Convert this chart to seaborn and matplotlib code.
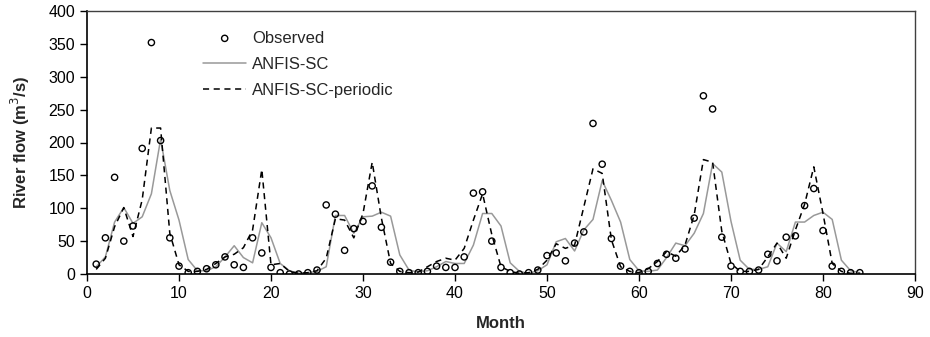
import numpy as np
import pandas as pd
import matplotlib
matplotlib.use('Agg')
import matplotlib.pyplot as plt
import seaborn as sns

# Monthly river flow values (months 1..84)
months = list(range(1, 85))
observed = [15, 55, 147, 50, 73, 191, 352, 203, 55, 12, 2, 4, 8, 14, 26, 14, 10, 55, 32, 10,
            2, 0, 0, 2, 6, 105, 91, 36, 69, 80, 134, 71, 18, 4, 2, 2, 4, 12, 10, 10,
            26, 123, 125, 50, 10, 2, 0, 2, 6, 28, 32, 20, 47, 64, 229, 167, 54, 12, 4, 2,
            4, 16, 30, 24, 38, 85, 271, 251, 56, 12, 4, 4, 6, 30, 20, 56, 58, 104, 130, 66,
            12, 4, 2, 2]
anfis_sc = [11, 26, 79, 101, 77, 87, 122, 205, 127, 82, 22, 5, 5, 11, 26, 43, 25, 17, 78, 55,
            16, 5, 1, 2, 4, 11, 89, 89, 62, 87, 88, 94, 88, 29, 6, 3, 5, 11, 19, 16,
            16, 44, 92, 92, 73, 17, 4, 1, 5, 14, 49, 54, 35, 67, 83, 142, 112, 79, 22, 5,
            4, 6, 25, 47, 43, 62, 92, 168, 155, 80, 21, 7, 7, 11, 47, 34, 79, 79, 89, 94,
            83, 21, 5, 2]
anfis_periodic = [7, 24, 72, 101, 57, 113, 222, 222, 62, 14, 4, 4, 7, 16, 26, 30, 40, 67, 159, 14,
                  16, 4, 1, 2, 5, 24, 84, 82, 55, 92, 170, 85, 16, 4, 2, 3, 11, 19, 24, 21,
                  39, 82, 122, 60, 11, 4, 1, 2, 7, 21, 46, 39, 44, 102, 160, 153, 52, 11, 4, 2,
                  8, 19, 34, 27, 44, 90, 174, 170, 65, 16, 4, 4, 7, 26, 47, 24, 67, 106, 163, 92,
                  16, 4, 1, 1]

df = pd.DataFrame({'month': months, 'Observed': observed,
                   'ANFIS-SC': anfis_sc, 'ANFIS-SC-periodic': anfis_periodic})

sns.set_style('ticks')
plt.rcParams['font.family'] = ['Liberation Sans', 'DejaVu Sans']

fig = plt.figure(figsize=(9.3, 3.37), dpi=100)
ax = fig.add_axes([87 / 930, 1 - 274 / 337, 828 / 930, 263 / 337])

sns.lineplot(data=df, x='month', y='ANFIS-SC', ax=ax, color='#999999', linewidth=1.1,
             label='ANFIS-SC')
sns.lineplot(data=df, x='month', y='ANFIS-SC-periodic', ax=ax, color='black', linewidth=1.1,
             dashes=False, label='ANFIS-SC-periodic')
ax.lines[-1].set_dashes([4, 3])
sns.scatterplot(data=df, x='month', y='Observed', ax=ax, marker='o', s=20,
                facecolor='none', edgecolor='black', linewidth=1, label='Observed', zorder=3)

ax.set_xlim(0, 90)
ax.set_ylim(0, 400)
ax.set_xticks(range(0, 91, 10))
ax.set_yticks(range(0, 401, 50))
ax.tick_params(direction='out', length=5, width=1, labelsize=11.5, colors='black')
for side in ['left', 'bottom']:
    ax.spines[side].set_color('black')
    ax.spines[side].set_linewidth(1.2)
for side in ['top', 'right']:
    ax.spines[side].set_color('#404040')
    ax.spines[side].set_linewidth(1)

ax.set_xlabel('Month', fontsize=12, fontweight='bold', labelpad=11)
ax.set_ylabel('River flow (m$^3$/s)', fontsize=12, fontweight='bold', labelpad=12)

handles, labels = ax.get_legend_handles_labels()
order = [labels.index(n) for n in ['Observed', 'ANFIS-SC', 'ANFIS-SC-periodic']]
ax.legend([handles[i] for i in order], [labels[i] for i in order],
          loc='upper left', bbox_to_anchor=(0.122, 0.982), frameon=False,
          fontsize=12, labelspacing=0.66, handlelength=2.6, handletextpad=0.35)

fig.savefig('out.png', dpi=100)
